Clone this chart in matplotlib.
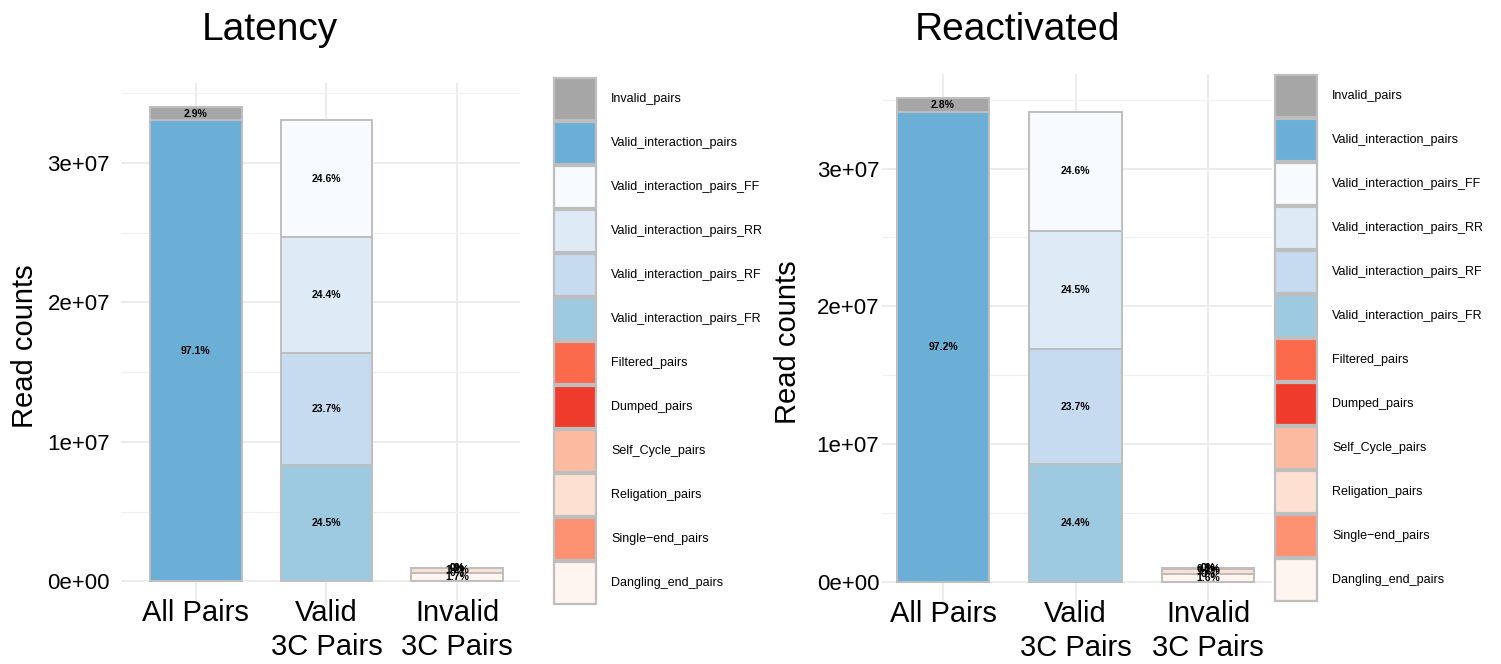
import matplotlib
matplotlib.use("Agg")
import matplotlib.pyplot as plt
from matplotlib.patches import Rectangle
from matplotlib.ticker import MultipleLocator, FuncFormatter

plt.rcParams['font.family'] = ['Liberation Sans', 'DejaVu Sans']

# ------------------ Datos ------------------
categorias = [
    "Invalid_pairs", "Valid_interaction_pairs",
    "Valid_interaction_pairs_FF", "Valid_interaction_pairs_RR",
    "Valid_interaction_pairs_RF", "Valid_interaction_pairs_FR",
    "Filtered_pairs", "Dumped_pairs", "Self_Cycle_pairs",
    "Religation_pairs", "Single\u2212end_pairs", "Dangling_end_pairs",
]
colores = [
    "#A6A6A6", "#6BAED6",
    "#F7FBFF", "#DEEBF7", "#C6DBEF", "#9ECAE1",
    "#FB6A4A", "#EF3B2C", "#FCBBA1", "#FEE0D2", "#FC9272", "#FFF5F0",
]
grupos = ["All Pairs", "Valid\n3C Pairs", "Invalid\n3C Pairs"]

# Invalid_pairs, Valid_interaction_pairs
latency_all = [986000, 33030000]
# FF, RR, RF, FR
latency_valid = [8360000, 8290000, 8055000, 8325000]
# Filtered, Dumped, Self_Cycle, Religation, Single-end, Dangling
latency_invalid = [0, 0, 0, 408000, 0, 578000]

reactivated_all = [983000, 34125000]
reactivated_valid = [8640000, 8600000, 8320000, 8565000]
reactivated_invalid = [0, 0, 35000, 386000, 0, 562000]

color_map = dict(zip(categorias, colores))
W, H = 1501, 664


def dibujar_panel(ax, v_all, v_valid, v_invalid, xlim, pad_y):
    """Barras apiladas con el porcentaje de cada segmento sobre el total."""
    total = sum(v_all)
    pilas = [(categorias[0:2], v_all), (categorias[2:6], v_valid), (categorias[6:12], v_invalid)]
    for i, (cats, vals) in enumerate(pilas):
        base = 0
        for cat, v in reversed(list(zip(cats, vals))):
            ax.bar(i + 1, v, bottom=base, width=0.7, color=color_map[cat],
                   edgecolor="#BEBEBE", linewidth=1.4, zorder=2)
            pct = round(v / total * 100, 1)
            ax.text(i + 1, base + v / 2, f"{pct:g}%", ha="center", va="center",
                    fontsize=7.5, fontweight="bold", zorder=3)
            base += v

    ax.set_xlim(*xlim)
    ax.set_ylim(-0.05 * total, 1.05 * total)
    ax.set_xticks([1, 2, 3])
    ax.set_xticklabels(grupos, fontsize=21, linespacing=1.25)
    ax.yaxis.set_major_locator(MultipleLocator(1e7))
    ax.yaxis.set_minor_locator(MultipleLocator(5e6))
    ax.yaxis.set_major_formatter(FuncFormatter(lambda v, _: f"{v:.0e}"))
    ax.tick_params(axis="y", which="both", length=0, labelsize=16, pad=pad_y)
    ax.tick_params(axis="x", length=0, pad=-4)
    ax.grid(True, axis="y", which="major", color="#EBEBEB", linewidth=1.3, zorder=0)
    ax.grid(True, axis="y", which="minor", color="#F0F0F0", linewidth=0.9, zorder=0)
    ax.grid(True, axis="x", which="major", color="#EBEBEB", linewidth=1.3, zorder=0)
    for s in ax.spines.values():
        s.set_visible(False)
    ax.set_axisbelow(True)


fig = plt.figure(figsize=(W / 100, H / 100), dpi=100)

ax1 = fig.add_axes([121 / W, 1 - 605 / H, 399 / W, 522 / H])
dibujar_panel(ax1, latency_all, latency_valid, latency_invalid, (0.4275, 3.481), 8)

ax2 = fig.add_axes([882 / W, 1 - 606 / H, 390 / W, 532 / H])
dibujar_panel(ax2, reactivated_all, reactivated_valid, reactivated_invalid, (0.5396, 3.483), 2)

# Títulos y etiquetas del eje y
fig.text(270 / W, 1 - 30 / H, "Latency", ha="center", va="center", fontsize=28)
fig.text(1017 / W, 1 - 30 / H, "Reactivated", ha="center", va="center", fontsize=28)
fig.text(25 / W, 1 - 346 / H, "Read counts", ha="center", va="center", rotation=90, fontsize=21)
fig.text(788 / W, 1 - 342 / H, "Read counts", ha="center", va="center", rotation=90, fontsize=21)

# Leyendas dibujadas en coordenadas de píxel
leg = fig.add_axes([0, 0, 1, 1])
leg.set_xlim(0, W)
leg.set_ylim(H, 0)
leg.axis("off")
for x0, y0 in [(553, 77), (1274, 74)]:
    for j, (cat, col) in enumerate(zip(categorias, colores)):
        y = y0 + j * 44
        leg.add_patch(Rectangle((x0 + 1, y + 1), 42, 42, facecolor=col,
                                edgecolor="#BEBEBE", linewidth=1.6))
        leg.text(x0 + 58, y + 22, cat, ha="left", va="center", fontsize=9)

plt.savefig("out.png", dpi=100)
plt.close()
